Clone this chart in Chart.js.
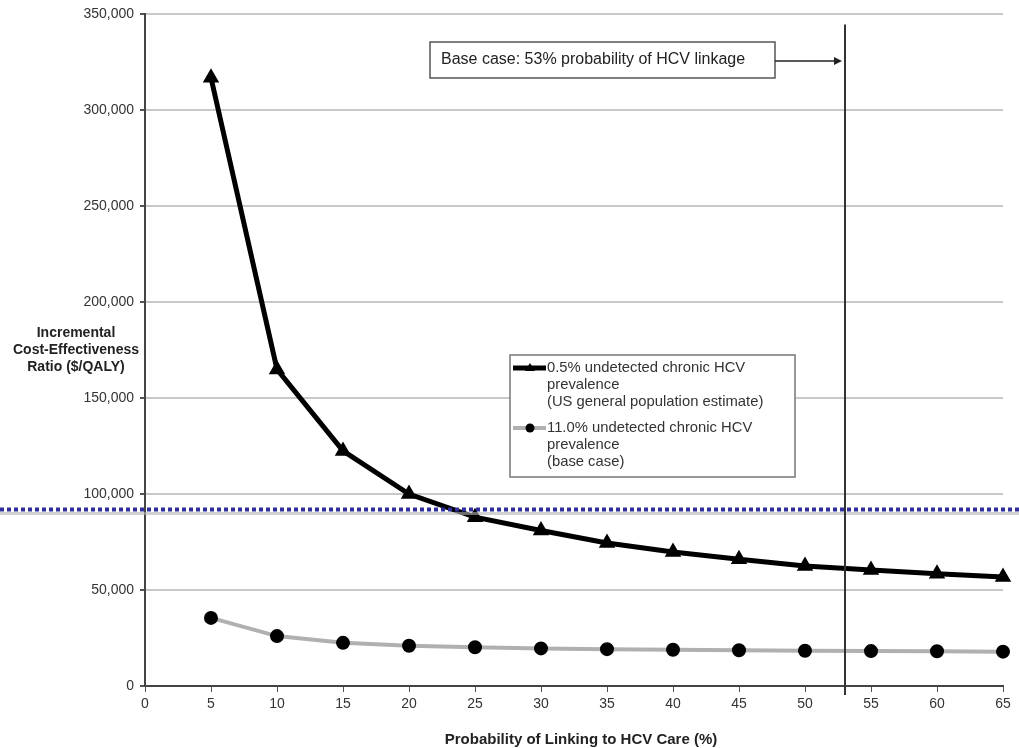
<!DOCTYPE html>
<html>
<head>
<meta charset="utf-8">
<script src="https://cdn.jsdelivr.net/npm/chart.js@4"></script>
<style>
  html, body { margin: 0; padding: 0; background: #fff; }
  #wrap { width: 1019px; height: 748px; position: relative; }
</style>
</head>
<body>
<div id="wrap"><canvas id="icerChart" width="1019" height="748"></canvas></div>
<script>
// probability of linking to HCV care (%)
const linkage = [5, 10, 15, 20, 25, 30, 35, 40, 45, 50, 55, 60, 65];
// ICER ($/QALY), 0.5% prevalence (US general population estimate)
const icerLowPrev = [317000, 165000, 122500, 100000, 88000, 81000, 74500, 69800, 66000, 62500, 60500, 58500, 56800];
// ICER ($/QALY), 11.0% prevalence (base case)
const icerHighPrev = [35500, 26000, 22500, 21000, 20200, 19600, 19200, 18900, 18600, 18400, 18200, 18100, 17900];
const legendLabels = [
  ['0.5% undetected chronic HCV', 'prevalence', '(US general population estimate)'],
  ['11.0% undetected chronic HCV', 'prevalence', '(base case)']
];
const baseCaseLinkage = 53;
const thresholdIcer = 92000;
const yTitle = ['Incremental', 'Cost-Effectiveness', 'Ratio ($/QALY)'];
const xTitle = 'Probability of Linking to HCV Care (%)';
const baseCaseNote = 'Base case: 53% probability of HCV linkage';

const FONT = 'Arial, "Liberation Sans", Helvetica, sans-serif';

const extras = {
  id: 'extras',
  afterDraw(chart) {
    const ctx = chart.ctx;
    const xs = chart.scales.x, ys = chart.scales.y;
    const area = chart.chartArea;
    ctx.save();

    // threshold dotted line across the whole figure
    const ty = ys.getPixelForValue(thresholdIcer);
    ctx.strokeStyle = 'rgba(180,180,180,0.6)';
    ctx.lineWidth = 3;
    ctx.beginPath(); ctx.moveTo(0, ty + 4); ctx.lineTo(chart.width, ty + 4); ctx.stroke();
    ctx.strokeStyle = '#2e2e9c';
    ctx.lineWidth = 4;
    ctx.setLineDash([4, 3]);
    ctx.beginPath(); ctx.moveTo(0, ty); ctx.lineTo(chart.width, ty); ctx.stroke();
    ctx.setLineDash([]);

    // base case vertical line
    const bx = Math.round(xs.getPixelForValue(baseCaseLinkage));
    ctx.strokeStyle = '#333';
    ctx.lineWidth = 2;
    ctx.beginPath(); ctx.moveTo(bx, area.top + 10); ctx.lineTo(bx, area.bottom + 9); ctx.stroke();

    // annotation box + arrow
    ctx.fillStyle = '#fff';
    ctx.fillRect(430, 42, 345, 36);
    ctx.strokeStyle = '#555';
    ctx.lineWidth = 1.5;
    ctx.strokeRect(430, 42, 345, 36);
    ctx.fillStyle = '#222';
    ctx.font = '16px ' + FONT;
    ctx.textBaseline = 'middle';
    ctx.textAlign = 'left';
    ctx.fillText(baseCaseNote, 441, 60);
    ctx.strokeStyle = '#222';
    ctx.lineWidth = 1.5;
    ctx.beginPath(); ctx.moveTo(775, 61); ctx.lineTo(bx - 10, 61); ctx.stroke();
    ctx.fillStyle = '#222';
    ctx.beginPath(); ctx.moveTo(bx - 3, 61); ctx.lineTo(bx - 11, 57); ctx.lineTo(bx - 11, 65); ctx.closePath(); ctx.fill();

    // legend
    ctx.fillStyle = '#fff';
    ctx.fillRect(510, 355, 285, 122);
    ctx.strokeStyle = '#777';
    ctx.lineWidth = 1.5;
    ctx.strokeRect(510, 355, 285, 122);
    const sets = chart.data.datasets;
    const rowTop = [368, 428];
    ctx.font = '14.8px ' + FONT;
    sets.forEach((ds, i) => {
      const y = rowTop[i];
      ctx.strokeStyle = ds.borderColor;
      ctx.lineWidth = ds.borderWidth;
      ctx.beginPath(); ctx.moveTo(513, y); ctx.lineTo(546, y); ctx.stroke();
      ctx.fillStyle = '#000';
      ctx.beginPath();
      if (ds.pointStyle === 'triangle') {
        ctx.moveTo(530, y - 5); ctx.lineTo(535, y + 3); ctx.lineTo(525, y + 3); ctx.closePath();
      } else {
        ctx.arc(530, y, 4.5, 0, Math.PI * 2);
      }
      ctx.fill();
      ctx.fillStyle = '#333';
      legendLabels[i].forEach((t, k) => ctx.fillText(t, 547, y + k * 17));
    });

    // axis titles
    ctx.fillStyle = '#222';
    ctx.font = 'bold 14px ' + FONT;
    ctx.textAlign = 'center';
    yTitle.forEach((t, k) => ctx.fillText(t, 76, 333 + k * 17));
    ctx.font = 'bold 15px ' + FONT;
    ctx.fillText(xTitle, 581, 740);
    ctx.restore();
  }
};

new Chart(document.getElementById('icerChart'), {
  type: 'line',
  data: {
    datasets: [
      {
        label: legendLabels[0].join(' '),
        data: linkage.map((x, i) => ({ x, y: icerLowPrev[i] })),
        borderColor: '#000',
        borderWidth: 5,
        pointStyle: 'triangle',
        pointRadius: 4.5,
        pointBackgroundColor: '#000',
        pointBorderColor: '#000',
        clip: false,
        tension: 0
      },
      {
        label: legendLabels[1].join(' '),
        data: linkage.map((x, i) => ({ x, y: icerHighPrev[i] })),
        borderColor: '#b0b0b0',
        borderWidth: 4,
        pointStyle: 'circle',
        pointRadius: 5,
        pointBackgroundColor: '#000',
        pointBorderColor: '#000',
        clip: false,
        tension: 0
      }
    ]
  },
  options: {
    responsive: false,
    animation: false,
    layout: { padding: { top: 14, right: 16, left: 0, bottom: 0 } },
    plugins: { legend: { display: false }, tooltip: { enabled: false } },
    scales: {
      x: {
        type: 'linear',
        min: 0, max: 65,
        afterFit: s => { s.height = 62; },
        ticks: { stepSize: 5, color: '#333', font: { size: 14, family: FONT }, padding: 4 },
        grid: { drawOnChartArea: false, tickLength: 6, tickColor: '#555' },
        border: { color: '#444', width: 2 }
      },
      y: {
        min: 0, max: 350000,
        afterFit: s => { s.width = 145; },
        ticks: {
          stepSize: 50000, color: '#333', font: { size: 14, family: FONT }, padding: 6,
          callback: v => v.toLocaleString('en-US')
        },
        grid: { color: '#c8c8c8', lineWidth: 2, tickLength: 5, tickColor: '#555' },
        border: { color: '#444', width: 2 }
      }
    }
  },
  plugins: [extras]
});
</script>
</body>
</html>
